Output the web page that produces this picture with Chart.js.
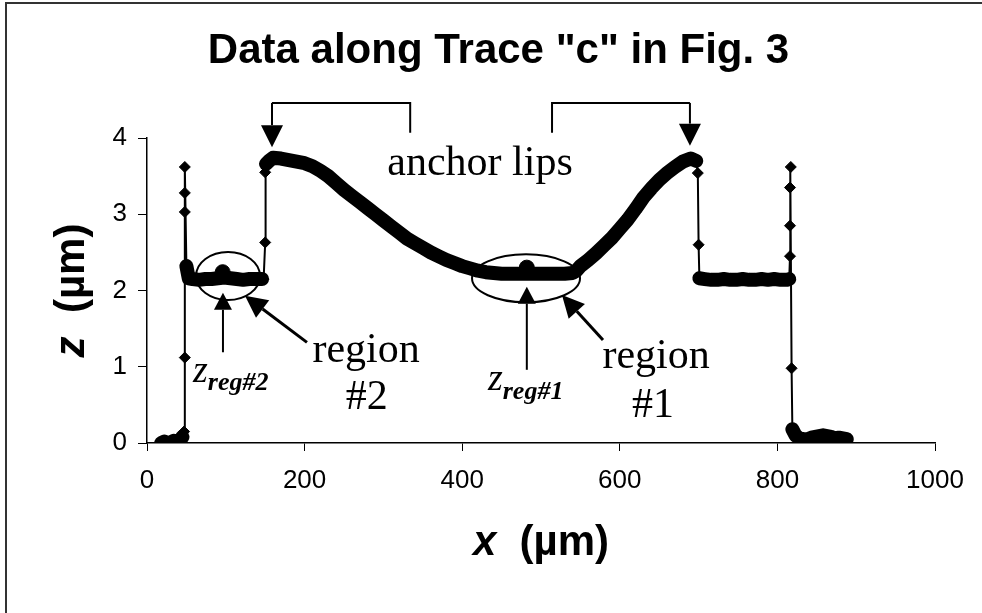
<!DOCTYPE html>
<html>
<head>
<meta charset="utf-8">
<script src="https://cdn.jsdelivr.net/npm/chart.js@4.4.1/dist/chart.umd.min.js"></script>
<style>
  html, body { margin: 0; padding: 0; background: #fff; }
  canvas { display: block; }
</style>
</head>
<body>
<canvas id="trace" width="982" height="613"></canvas>
<script>
// position along trace "c" (um) and measured height z (um)
const xValues = [
  18, 22, 26, 30, 34, 38, 42, 45, 47,
  48, 48, 48, 48, 50, 53,
  58, 66, 74, 82, 90, 98, 106, 114, 122, 130, 138, 146, 148,
  150, 150, 151,
  155, 160, 170, 180, 190, 200, 210, 220, 230, 240, 250, 260, 270, 280, 290, 300,
  310, 320, 330, 340, 350, 360, 370, 380, 390, 400, 410, 420, 430, 440,
  450, 460, 470, 480, 490, 500, 510, 520, 530, 540, 545,
  550, 560, 570, 580, 590, 600, 610, 620, 630, 640, 650, 660, 670, 680, 690, 697,
  699, 700, 701,
  708, 716, 724, 732, 740, 748, 756, 764, 772, 780, 788, 796, 804, 812, 815,
  816, 816, 816, 817, 818, 819,
  823, 828, 833, 838, 843, 848, 853, 858, 863, 868, 873, 878, 883, 888
];
const zValues = [
  0.00, 0.02, 0.00, 0.01, 0.03, 0.02, 0.04, 0.08, 0.15,
  1.12, 3.03, 3.28, 3.62, 2.32, 2.16,
  2.15, 2.14, 2.15, 2.15, 2.16, 2.17, 2.16, 2.15, 2.14, 2.15, 2.15, 2.15, 2.15,
  2.63, 3.55, 3.66,
  3.70, 3.74, 3.73, 3.71, 3.69, 3.67, 3.63, 3.57, 3.50, 3.41, 3.32, 3.24, 3.16, 3.08, 3.00, 2.92,
  2.84, 2.76, 2.68, 2.62, 2.56, 2.50, 2.45, 2.40, 2.36, 2.32, 2.29, 2.26, 2.24, 2.23,
  2.22, 2.22, 2.22, 2.22, 2.22, 2.22, 2.22, 2.22, 2.22, 2.23, 2.26,
  2.32, 2.40, 2.49, 2.59, 2.69, 2.81, 2.93, 3.07, 3.22, 3.34, 3.45, 3.54, 3.62, 3.69, 3.73, 3.70,
  3.54, 2.60, 2.16,
  2.15, 2.14, 2.14, 2.15, 2.14, 2.14, 2.15, 2.14, 2.14, 2.15, 2.14, 2.15, 2.14, 2.14, 2.15,
  2.45, 2.85, 3.35, 3.62, 0.98, 0.18,
  0.10, 0.06, 0.05, 0.05, 0.07, 0.08, 0.09, 0.10, 0.09, 0.08, 0.06, 0.07, 0.06, 0.05
];
// averaged heights z_reg#2 and z_reg#1
const regionX = [96, 482];
const regionZ = [2.24, 2.30];

const xTickValues = [0, 200, 400, 600, 800, 1000];
const zTickValues = [0, 1, 2, 3, 4];

const sans = '"Liberation Sans", Arial, sans-serif';
const serif = '"Liberation Serif", "Times New Roman", serif';

const tracePoints = xValues.map((x, i) => ({ x: x, y: zValues[i] }));
const regionPoints = regionX.map((x, i) => ({ x: x, y: regionZ[i] }));

function arrow(ctx, x1, y1, x2, y2, len, half) {
  const a = Math.atan2(y2 - y1, x2 - x1);
  const bx = x2 - len * Math.cos(a), by = y2 - len * Math.sin(a);
  ctx.beginPath();
  ctx.moveTo(x1, y1);
  ctx.lineTo(bx, by);
  ctx.stroke();
  ctx.beginPath();
  ctx.moveTo(x2, y2);
  ctx.lineTo(bx + half * Math.sin(a), by - half * Math.cos(a));
  ctx.lineTo(bx - half * Math.sin(a), by + half * Math.cos(a));
  ctx.closePath();
  ctx.fill();
}

function zLabel(ctx, x, y, sub, subDrop) {
  ctx.textAlign = 'left';
  ctx.textBaseline = 'alphabetic';
  ctx.font = 'italic 38px ' + serif;
  ctx.fillText('z', x, y);
  const w = ctx.measureText('z').width;
  ctx.font = 'italic bold 26px ' + serif;
  ctx.fillText(sub, x + w, y + subDrop);
}

// axis title with an italic bold variable name and bold units
function axisTitle(ctx, name, x, y) {
  ctx.font = 'italic bold 42px ' + sans;
  const nw = ctx.measureText(name).width;
  ctx.font = 'bold 42px ' + sans;
  const uw = ctx.measureText('  (\u00b5m)').width;
  const left = x - (nw + uw) / 2;
  ctx.textAlign = 'left';
  ctx.textBaseline = 'alphabetic';
  ctx.font = 'italic bold 42px ' + sans;
  ctx.fillText(name, left, y);
  ctx.font = 'bold 42px ' + sans;
  ctx.fillText('  (\u00b5m)', left + nw, y);
}

// annotations drawn on top, placed in data units
const annotations = {
  id: 'annotations',
  beforeDraw(chart) {
    const ctx = chart.ctx;
    ctx.save();
    ctx.fillStyle = '#fff';
    ctx.fillRect(0, 0, chart.width, chart.height);
    ctx.restore();
  },
  afterDraw(chart) {
    const ctx = chart.ctx;
    const sx = chart.scales.x, sy = chart.scales.y;
    const px = v => sx.getPixelForValue(v);
    const py = v => sy.getPixelForValue(v);
    const area = chart.chartArea;
    ctx.save();
    ctx.fillStyle = '#000';

    // page frame
    ctx.lineWidth = 2;
    ctx.strokeStyle = '#333';
    ctx.beginPath();
    ctx.moveTo(6, chart.height);
    ctx.lineTo(6, 3);
    ctx.lineTo(chart.width, 3);
    ctx.stroke();
    ctx.strokeStyle = '#000';

    // axis titles
    axisTitle(ctx, 'x', (area.left + area.right) / 2, 555);
    ctx.save();
    ctx.translate(84, (area.top + area.bottom) / 2);
    ctx.rotate(-Math.PI / 2);
    axisTitle(ctx, 'z', 0, 0);
    ctx.restore();

    // "anchor lips" brackets
    ctx.lineWidth = 2;
    ctx.beginPath();
    ctx.moveTo(px(334), py(4.07));
    ctx.lineTo(px(334), py(4.46));
    ctx.lineTo(px(158.6), py(4.46));
    ctx.stroke();
    arrow(ctx, px(158.6), py(4.46), px(158.6), py(3.88), 22, 11);
    ctx.beginPath();
    ctx.moveTo(px(514), py(4.07));
    ctx.lineTo(px(514), py(4.46));
    ctx.lineTo(px(689), py(4.46));
    ctx.stroke();
    arrow(ctx, px(689), py(4.46), px(689), py(3.90), 22, 11);

    ctx.font = '42px ' + serif;
    ctx.textAlign = 'center';
    ctx.textBaseline = 'alphabetic';
    ctx.fillText('anchor lips', px(422.6), py(3.51));

    // region ellipses
    ctx.lineWidth = 2;
    ctx.beginPath();
    ctx.ellipse(px(102.8), py(2.19), 32, 24, 0, 0, Math.PI * 2);
    ctx.stroke();
    ctx.beginPath();
    ctx.ellipse(px(481), py(2.16), 54, 24, 0, 0, Math.PI * 2);
    ctx.stroke();

    // arrows to z_reg points
    ctx.lineWidth = 2;
    arrow(ctx, px(96.4), py(1.19), px(96.4), py(1.97), 17, 9);
    arrow(ctx, px(482), py(0.96), px(482), py(2.05), 17, 9);
    ctx.lineWidth = 3;
    arrow(ctx, px(203), py(1.32), px(124.4), py(1.93), 22, 11);
    arrow(ctx, px(578.7), py(1.35), px(526.6), py(1.94), 22, 11);

    // region labels
    ctx.font = '42px ' + serif;
    ctx.textAlign = 'center';
    ctx.fillText('region', px(278), py(1.06));
    ctx.fillText('#2', px(279), py(0.45));
    ctx.fillText('region', px(646), py(0.98));
    ctx.fillText('#1', px(642), py(0.34));

    zLabel(ctx, px(58.4), py(0.80), 'reg#2', 8);
    zLabel(ctx, px(432.7), py(0.70), 'reg#1', 9);
    ctx.restore();
  }
};

// thick band where the samples are dense, thin line across the steps
const segWidth = c => Math.abs(c.p1.parsed.x - c.p0.parsed.x) >= 3 ? 14 : 2;

new Chart(document.getElementById('trace'), {
  type: 'scatter',
  data: {
    datasets: [{
      label: 'trace c',
      data: tracePoints,
      showLine: true,
      borderColor: '#000',
      backgroundColor: '#000',
      borderWidth: 2,
      borderCapStyle: 'round',
      borderJoinStyle: 'round',
      segment: { borderWidth: segWidth },
      pointStyle: 'rectRot',
      pointRadius: 5.5,
      pointBorderWidth: 1,
      pointBackgroundColor: '#000',
      pointBorderColor: '#000'
    }, {
      label: 'z_reg',
      data: regionPoints,
      showLine: false,
      pointStyle: 'circle',
      pointRadius: 7.5,
      pointBackgroundColor: '#000',
      pointBorderColor: '#000'
    }]
  },
  options: {
    responsive: false,
    animation: false,
    devicePixelRatio: 1,
    layout: { padding: { left: 31, right: 16, top: 0, bottom: 0 } },
    plugins: {
      legend: { display: false },
      tooltip: { enabled: false },
      title: {
        display: true,
        text: 'Data along Trace "c" in Fig. 3',
        color: '#000',
        font: { family: sans, size: 42, weight: 'bold' },
        padding: { top: 26, bottom: 61.6 }
      }
    },
    scales: {
      x: {
        type: 'linear',
        min: 0,
        max: 1000,
        afterBuildTicks: s => { s.ticks = xTickValues.map(v => ({ value: v })); },
        afterFit: s => { s.height = 170; },
        ticks: { color: '#000', font: { family: sans, size: 26 }, padding: 14, maxRotation: 0, callback: v => String(v) },
        grid: { drawOnChartArea: false, drawTicks: true, tickLength: 8, color: '#000' },
        border: { display: true, color: '#000', width: 1.5 }
      },
      y: {
        type: 'linear',
        min: 0,
        max: 4,
        afterBuildTicks: s => { s.ticks = zTickValues.map(v => ({ value: v })); },
        afterFit: s => { s.width = 116; },
        ticks: { color: '#000', font: { family: sans, size: 26 }, padding: 11, callback: v => String(v) },
        grid: { drawOnChartArea: false, drawTicks: true, tickLength: 9, color: '#000' },
        border: { display: true, color: '#000', width: 1.5 }
      },
      // empty margin on the right, keeps the title centred on the page
      yRight: {
        position: 'right',
        display: true,
        afterFit: s => { s.width = 31; },
        ticks: { display: false },
        grid: { display: false },
        border: { display: false }
      }
    }
  },
  plugins: [annotations]
});
</script>
</body>
</html>
